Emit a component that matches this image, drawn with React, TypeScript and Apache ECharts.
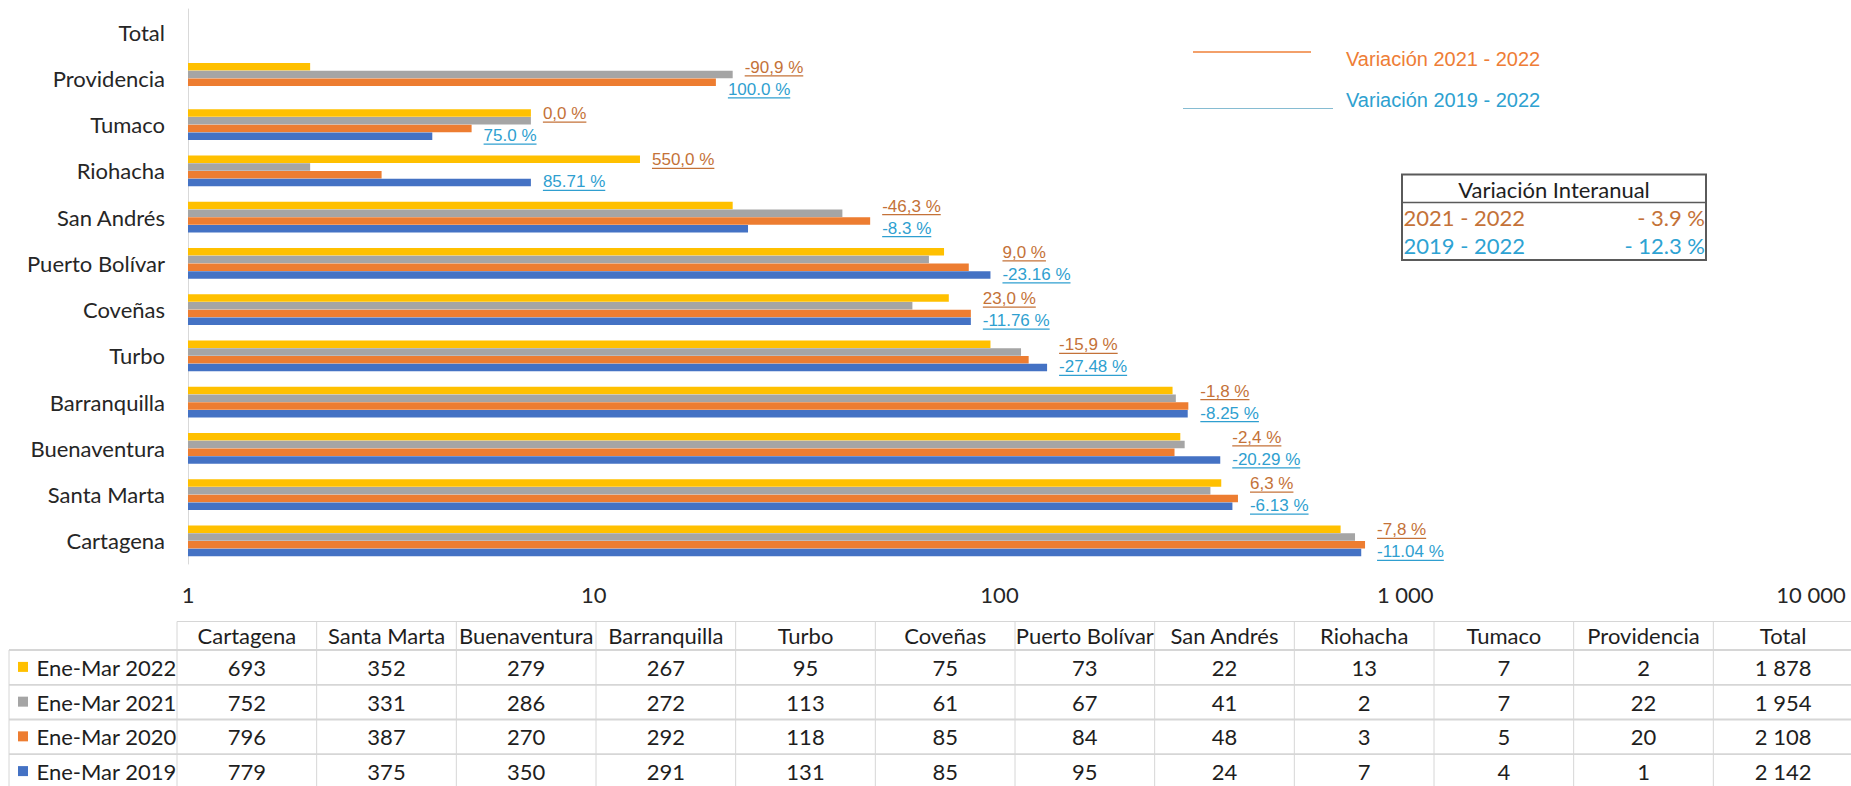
import React, { useEffect, useRef } from 'react';
import * as echarts from 'echarts';

// ---------- data ----------
const categories = ['Cartagena', 'Santa Marta', 'Buenaventura', 'Barranquilla', 'Turbo', 'Coveñas', 'Puerto Bolívar', 'San Andrés', 'Riohacha', 'Tumaco', 'Providencia', 'Total'];
const seriesNames = ['Ene-Mar 2022', 'Ene-Mar 2021', 'Ene-Mar 2020', 'Ene-Mar 2019'];
const v2022 = [693, 352, 279, 267, 95, 75, 73, 22, 13, 7, 2, 1878];
const v2021 = [752, 331, 286, 272, 113, 61, 67, 41, 2, 7, 22, 1954];
const v2020 = [796, 387, 270, 292, 118, 85, 84, 48, 3, 5, 20, 2108];
const v2019 = [779, 375, 350, 291, 131, 85, 95, 24, 7, 4, 1, 2142];
const var2122 = ['-7,8 %', '6,3 %', '-2,4 %', '-1,8 %', '-15,9 %', '23,0 %', '9,0 %', '-46,3 %', '550,0 %', '0,0 %', '-90,9 %', ''];
const var1922 = ['-11.04 %', '-6.13 %', '-20.29 %', '-8.25 %', '-27.48 %', '-11.76 %', '-23.16 %', '-8.3 %', '85.71 %', '75.0 %', '100.0 %', ''];
const axisTicks = [1, 10, 100, 1000, 10000];
const legendVar = ['Variación 2021 - 2022', 'Variación 2019 - 2022'];
const interTitle = 'Variación Interanual';
const interPeriods = ['2021 - 2022', '2019 - 2022'];
const interValues = ['- 3.9 %', '- 12.3 %'];

// ---------- styles ----------
const barColors = ['#FFC000', '#A5A5A5', '#ED7D31', '#4472C4'];
const CAL = 'Lato';
const FS = 22;
const labelOrange = '#C47238';
const labelBlue = '#2F9FD0';
const txtDark = '#1E1E1E';

const fmtThousands = (v: number) => String(Math.round(v)).replace(/\B(?=(\d{3})+(?!\d))/g, ' ');

let measureCtx: CanvasRenderingContext2D | null = null;
function textWidth(t: string, font: string) {
  if (!measureCtx) measureCtx = document.createElement('canvas').getContext('2d');
  measureCtx!.font = font;
  return measureCtx!.measureText(t).width;
}

export default function App() {
  const ref = useRef<HTMLDivElement>(null);

  useEffect(() => {
    if (!ref.current) return;
    const chart = echarts.init(ref.current, undefined, { renderer: 'svg' });
    const all = [v2022, v2021, v2020, v2019];

    const labelSize = 17;
    const labelFamily = 'Liberation Sans';
    const labelFontCss = `${labelSize}px "${labelFamily}"`;
    const makeLabelSeries = (texts: string[], anchorOf: (i: number) => number, color: string, dy: number) => ({
      type: 'custom',
      coordinateSystem: 'cartesian2d',
      silent: true,
      clip: false,
      encode: { x: 0, y: 1 },
      data: categories.map((c, i) => [anchorOf(i), i]).filter((d) => texts[d[1]] !== ''),
      renderItem: (params: any, api: any) => {
        const idx = api.value(1);
        const pt = api.coord([api.value(0), idx]);
        const text = texts[idx];
        const w = textWidth(text, labelFontCss);
        const x = pt[0] + 12;
        const y = pt[1] + dy;
        return {
          type: 'group',
          children: [
            {
              type: 'text', x, y,
              style: { text, fill: color, fontSize: labelSize, fontFamily: labelFamily, textAlign: 'left', textVerticalAlign: 'middle', align: 'left', verticalAlign: 'middle' },
            },
            { type: 'line', shape: { x1: x, y1: y + 8.5, x2: x + w, y2: y + 8.5 }, style: { stroke: color, lineWidth: 1.4 } },
          ],
        };
      },
    });

    // ---------- table graphics ----------
    const g: any[] = [];
    const tLeft = 177;
    const tRight = 1853;
    const colW = (tRight - tLeft) / categories.length;
    const headTop = 621.5;
    const rowLines = [650, 684.8, 719.5, 754.2, 789];
    const lineCol = '#D6D6D6';
    const txt = (x: number, y: number, text: string, fill: string, align: string, size = FS, family = CAL) => ({
      type: 'text', silent: true, x, y,
      style: { text, fontSize: size, fontFamily: family, fill, textAlign: align, textVerticalAlign: 'middle' },
    });
    g.push({ type: 'line', silent: true, shape: { x1: tLeft, y1: headTop, x2: 1851, y2: headTop }, style: { stroke: lineCol, lineWidth: 1.2 } });
    for (let k = 0; k <= categories.length; k++) {
      const x = tLeft + k * colW;
      g.push({ type: 'line', silent: true, shape: { x1: x, y1: headTop, x2: x, y2: 790 }, style: { stroke: lineCol, lineWidth: 1 } });
    }
    g.push({ type: 'line', silent: true, shape: { x1: 9, y1: rowLines[0], x2: 9, y2: 790 }, style: { stroke: lineCol, lineWidth: 1 } });
    rowLines.slice(0, 4).forEach((y) => {
      g.push({ type: 'line', silent: true, shape: { x1: 9, y1: y, x2: 1851, y2: y }, style: { stroke: lineCol, lineWidth: 1.8 } });
    });
    categories.forEach((c, k) => {
      g.push(txt(tLeft + (k + 0.5) * colW, (headTop + rowLines[0]) / 2, c, txtDark, 'center'));
    });
    all.forEach((vals, r) => {
      const cy = (rowLines[r] + rowLines[r + 1]) / 2;
      g.push({ type: 'rect', silent: true, shape: { x: 18, y: cy - 5.5, width: 10, height: 10 }, style: { fill: barColors[r] } });
      g.push(txt(36.5, cy, seriesNames[r], txtDark, 'left'));
      vals.forEach((v, k) => {
        g.push(txt(tLeft + (k + 0.5) * colW, cy, fmtThousands(v), txtDark, 'center'));
      });
    });

    // ---------- variation legend ----------
    g.push({ type: 'line', silent: true, shape: { x1: 1193, y1: 52, x2: 1311, y2: 52 }, style: { stroke: '#F3A06A', lineWidth: 1.8 } });
    g.push({ type: 'line', silent: true, shape: { x1: 1183, y1: 108.5, x2: 1333, y2: 108.5 }, style: { stroke: '#86BCD2', lineWidth: 1.2 } });
    g.push(txt(1346, 59, legendVar[0], '#EE7D36', 'left', 20, 'Liberation Sans'));
    g.push(txt(1346, 99.5, legendVar[1], '#2EA1D0', 'left', 20, 'Liberation Sans'));

    // ---------- interannual box ----------
    const bx = 1402, by = 174.5, bw = 304, bh = 85.5;
    g.push({ type: 'rect', silent: true, shape: { x: bx, y: by, width: bw, height: bh }, style: { fill: '#ffffff', stroke: '#5A5A5A', lineWidth: 2 } });
    g.push({ type: 'line', silent: true, shape: { x1: bx, y1: 202.5, x2: bx + bw, y2: 202.5 }, style: { stroke: '#5A5A5A', lineWidth: 1.5 } });
    g.push(txt(bx + bw / 2, 189, interTitle, txtDark, 'center'));
    const boxCols = ['#C47238', '#2EA3D3'];
    [217.5, 245.5].forEach((cy, r) => {
      g.push(txt(bx + 1.5, cy, interPeriods[r], boxCols[r], 'left'));
      g.push(txt(bx + bw - 1, cy, interValues[r], boxCols[r], 'right'));
    });

    const option: any = {
      animation: false,
      backgroundColor: '#ffffff',
      grid: { left: 188, right: 40, top: 9, bottom: 222, containLabel: false, outerBoundsMode: 'none' },
      xAxis: {
        type: 'log',
        logBase: 10,
        min: axisTicks[0],
        max: axisTicks[axisTicks.length - 1],
        axisLine: { show: false },
        axisTick: { show: false },
        splitLine: { show: false },
        axisLabel: {
          fontFamily: CAL,
          fontSize: FS,
          color: '#262626',
          margin: 19,
          formatter: (v: number) => fmtThousands(v),
        },
      },
      yAxis: {
        type: 'category',
        data: categories,
        axisLine: { show: true, lineStyle: { color: '#D9D9D9', width: 1 } },
        axisTick: { show: false },
        splitLine: { show: false },
        axisLabel: { fontFamily: CAL, fontSize: FS, color: '#262626', margin: 23 },
      },
      series: [
        ...all.map((vals, k) => ({
          type: 'bar',
          name: seriesNames[k],
          data: vals.map((v, i) => (categories[i] === 'Total' ? '-' : v)),
          itemStyle: { color: barColors[k] },
          barCategoryGap: '33%',
          barGap: '4%',
          silent: true,
        })),
        makeLabelSeries(var2122, (i) => Math.max(v2022[i], v2021[i], v2020[i], v2019[i]), labelOrange, -11),
        makeLabelSeries(var1922, (i) => Math.max(v2020[i], v2019[i]), labelBlue, 11),
      ],
      graphic: { elements: g },
    };
    chart.setOption(option);
    return () => chart.dispose();
  }, []);

  return <div ref={ref} style={{ position: 'absolute', left: 0, top: 0, width: 1851, height: 786, background: '#fff' }} />;
}
